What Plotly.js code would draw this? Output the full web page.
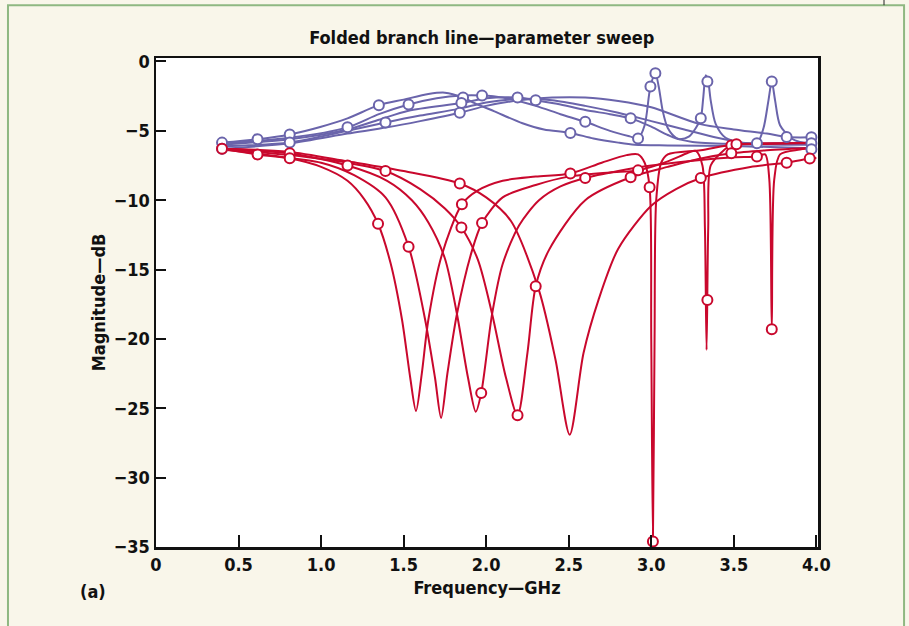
<!DOCTYPE html>
<html>
<head>
<meta charset="utf-8">
<script src="https://cdn.plot.ly/plotly-3.0.1.min.js"></script>
<style>
html,body{margin:0;padding:0;background:#f9f6ea;}
#chart{width:909px;height:626px;}
</style>
</head>
<body>
<div id="chart"></div>
<script>
// ---- Blue curves (GHz, dB) ----
const b1X = [0.4,0.62,0.81,1.0,1.16,1.35,1.5,1.65,1.75,1.86,1.93,2.05,2.22,2.35,2.51,2.65,2.8,2.9,3.1,3.5,3.97];
const b1Y = [-5.85,-5.6,-5.26,-4.7,-4.1,-3.15,-2.75,-2.35,-2.25,-2.6,-3.0,-3.6,-4.45,-4.9,-5.15,-5.55,-5.85,-6.0,-6.05,-6.1,-6.25];

const b2X = [0.4,0.81,1.16,1.35,1.53,1.7,1.85,1.975,2.1,2.3,2.45,2.6,2.75,2.87,2.92,2.96,2.995,3.025,3.045,3.07,3.1,3.15,3.25,3.5,3.97];
const b2Y = [-5.9,-5.5,-4.75,-3.8,-3.1,-2.65,-2.45,-2.45,-2.6,-3.2,-3.8,-4.35,-5.0,-5.4,-5.55,-4.6,-1.8,-0.85,-1.8,-3.6,-4.8,-5.5,-5.8,-5.95,-6.0];

const b3X = [0.4,0.81,1.16,1.35,1.53,1.85,2.0,2.19,2.3,2.45,2.6,2.75,2.875,3.0,3.1,3.17,3.23,3.27,3.3,3.315,3.33,3.345,3.36,3.39,3.45,3.55,3.8,3.97];
const b3Y = [-6.0,-5.6,-4.9,-4.2,-3.55,-3.0,-2.65,-2.6,-2.8,-3.1,-3.5,-3.8,-4.1,-4.7,-5.3,-5.6,-5.4,-4.8,-4.1,-2.6,-1.0,-1.45,-2.8,-4.5,-5.5,-5.85,-5.9,-5.9];

const b4X = [0.4,0.81,1.16,1.39,1.6,1.84,2.0,2.2,2.4,2.6,2.8,3.0,3.2,3.4,3.55,3.64,3.68,3.71,3.73,3.75,3.78,3.85,3.9,3.97];
const b4Y = [-6.1,-5.84,-5.0,-4.4,-3.9,-3.4,-2.95,-2.7,-2.8,-3.2,-3.7,-4.3,-4.9,-5.5,-5.85,-5.9,-4.8,-2.8,-1.45,-2.8,-4.6,-5.55,-5.8,-5.9];

const b5X = [0.4,0.81,1.16,1.4,1.6,1.84,2.0,2.2,2.4,2.6,2.8,3.0,3.29,3.5,3.7,3.82,3.97];
const b5Y = [-6.3,-5.9,-5.2,-4.75,-4.3,-3.7,-3.2,-2.8,-2.6,-2.6,-2.85,-3.3,-4.5,-4.9,-5.2,-5.45,-5.47];

// ---- Red curves (GHz, dB) ----
const r1X = [0.4,0.81,1.0,1.16,1.26,1.345,1.42,1.49,1.54,1.575,1.61,1.65,1.73,1.853,1.95,2.1,2.3,2.51,2.7,2.85,2.92,2.96,2.99,3.0,3.01,3.02,3.03,3.06,3.1,3.3,3.516,4.0];
const r1Y = [-6.35,-6.98,-7.6,-8.6,-9.9,-11.7,-14.5,-18.6,-22.8,-25.2,-22.5,-18.6,-14.0,-10.3,-9.3,-8.6,-8.3,-8.07,-7.3,-6.75,-6.7,-7.3,-9.07,-20,-34.6,-20,-10,-7.3,-6.7,-6.4,-5.97,-5.9];

const r2X = [0.4,0.615,1.0,1.2,1.39,1.53,1.63,1.69,1.727,1.765,1.823,1.915,1.975,2.1,2.3,2.5,2.75,2.92,3.1,3.22,3.27,3.31,3.325,3.335,3.345,3.36,3.43,3.485,3.7,4.0];
const r2Y = [-6.3,-6.7,-7.3,-8.2,-9.8,-13.35,-18.6,-22.8,-25.7,-22.5,-18.2,-13.6,-11.65,-9.8,-8.9,-8.3,-8.0,-7.85,-7.2,-6.6,-6.45,-7.5,-12,-20.8,-12,-7.5,-6.5,-6.05,-5.95,-5.85];

const r3X = [0.4,0.81,1.16,1.4,1.55,1.65,1.75,1.823,1.89,1.937,1.97,2.036,2.1,2.2,2.32,2.45,2.6,2.8,3.0,3.3,3.5,3.64,3.69,3.715,3.73,3.745,3.78,3.9,4.0];
const r3Y = [-6.3,-6.62,-7.5,-8.6,-10.0,-11.6,-14.2,-18.2,-22.8,-25.25,-23.9,-18.2,-14.6,-11.8,-10.0,-9.0,-8.4,-7.9,-7.5,-7.1,-6.9,-6.85,-6.7,-8.5,-19.3,-8.5,-6.7,-6.35,-6.2];

const r4X = [0.4,0.81,1.16,1.39,1.6,1.75,1.85,1.95,2.036,2.12,2.19,2.25,2.3,2.38,2.6,2.875,3.1,3.3,3.485,3.7,4.0];
const r4Y = [-6.3,-6.75,-7.3,-7.9,-9.2,-10.6,-11.97,-14.3,-18.2,-22.8,-25.5,-21,-16.2,-13.6,-10.0,-8.35,-7.6,-7.0,-6.62,-6.4,-6.2];

const r5X = [0.4,0.8,1.16,1.5,1.84,2.0,2.15,2.32,2.42,2.506,2.59,2.68,2.8,3.0,3.15,3.3,3.6,3.82,3.96,4.0];
const r5Y = [-6.3,-6.5,-7.2,-7.9,-8.8,-9.8,-11.5,-16.5,-21.5,-26.9,-21,-17.2,-13.5,-10.4,-9.2,-8.4,-7.6,-7.3,-7.0,-6.95];

// ---- Open-circle markers ----
const blueMarkX = [0.4,0.4,0.615,0.81,0.81,1.16,1.39,1.35,1.53,1.86,1.85,1.84,1.975,2.19,2.30,2.51,2.60,2.875,2.92,2.995,3.025,3.30,3.34,3.73,3.64,3.82,3.97,3.97,3.97];
const blueMarkY = [-5.85,-6.3,-5.6,-5.26,-5.84,-4.75,-4.4,-3.15,-3.1,-2.6,-3.0,-3.7,-2.45,-2.6,-2.8,-5.15,-4.35,-4.1,-5.55,-1.8,-0.85,-4.1,-1.45,-1.45,-5.9,-5.45,-5.47,-5.9,-6.33];

const redMarkX = [0.40,0.615,0.81,0.81,1.16,1.39,1.84,1.345,1.53,1.853,1.85,1.975,1.97,2.19,2.30,2.51,2.60,2.875,2.92,2.99,3.01,3.30,3.34,3.485,3.516,3.485,3.64,3.73,3.82,3.96];
const redMarkY = [-6.3,-6.7,-6.62,-6.98,-7.5,-7.9,-8.8,-11.7,-13.35,-10.3,-11.97,-11.65,-23.9,-25.5,-16.2,-8.07,-8.4,-8.35,-7.85,-9.07,-34.6,-8.4,-17.2,-6.05,-5.97,-6.62,-6.85,-19.3,-7.3,-7.0];

const xTickVals = [0,0.5,1.0,1.5,2.0,2.5,3.0,3.5,4.0];
const xTickText = ['0','0.5','1.0','1.5','2.0','2.5','3.0','3.5','4.0'];
const yTickVals = [0,-5,-10,-15,-20,-25,-30,-35];
const yTickText = ['0','\u22125','\u221210','\u221215','\u221220','\u221225','\u221230','\u221235'];

const BLUE = '#6a64ab';
const RED = '#c9082d';
const FONT = '"Liberation Sans Narrow","Arial Narrow","DejaVu Sans Condensed",sans-serif';

function line(x, y, color) {
  return {x: x, y: y, type: 'scatter', mode: 'lines',
    line: {color: color, width: 2, shape: 'spline', smoothing: 0.8},
    hoverinfo: 'skip', showlegend: false};
}
function marks(x, y, color) {
  return {x: x, y: y, type: 'scatter', mode: 'markers',
    marker: {symbol: 'circle', size: 10, color: '#ffffff', line: {color: color, width: 2}},
    hoverinfo: 'skip', showlegend: false};
}

const traces = [
  line(b1X, b1Y, BLUE), line(b2X, b2Y, BLUE), line(b3X, b3Y, BLUE), line(b4X, b4Y, BLUE), line(b5X, b5Y, BLUE),
  line(r1X, r1Y, RED), line(r2X, r2Y, RED), line(r3X, r3Y, RED), line(r4X, r4Y, RED), line(r5X, r5Y, RED),
  marks(blueMarkX, blueMarkY, BLUE), marks(redMarkX, redMarkY, RED)
];

const layout = {
  width: 909, height: 626,
  paper_bgcolor: '#f9f6ea', plot_bgcolor: '#ffffff',
  margin: {l: 156, r: 91, t: 58, b: 79},
  font: {family: FONT, color: '#111111'},
  title: {text: 'Folded branch line\u2014parameter sweep', x: 0.53, xanchor: 'center', y: 0.94, yanchor: 'middle',
          font: {family: FONT, size: 18, weight: 'bold', color: '#111111'}},
  xaxis: {range: [0, 4.01], tickvals: xTickVals, ticktext: xTickText,
          ticks: 'inside', ticklen: 12, tickwidth: 2, tickcolor: '#111',
          showline: true, linewidth: 2.5, linecolor: '#111', mirror: true,
          showgrid: false, zeroline: false,
          tickfont: {family: FONT, size: 18, weight: 'bold'},
          title: {text: 'Frequency\u2014GHz', standoff: 8, font: {family: FONT, size: 18, weight: 'bold'}}},
  yaxis: {range: [-35, 0.25], tickvals: yTickVals, ticktext: yTickText,
          ticks: 'inside', ticklen: 10, tickwidth: 2, tickcolor: '#111',
          showline: true, linewidth: 2.5, linecolor: '#111', mirror: true,
          showgrid: false, zeroline: false,
          tickfont: {family: FONT, size: 18, weight: 'bold'},
          title: {text: 'Magnitude\u2014dB', standoff: 4, font: {family: FONT, size: 18, weight: 'bold'}}},
  shapes: [
    {type: 'rect', xref: 'paper', yref: 'paper', x0: -0.2236, x1: 1.13, y0: -0.2, y1: 1.108,
     line: {color: '#8fb882', width: 2}, fillcolor: 'rgba(0,0,0,0)', layer: 'below'},
    {type: 'line', xref: 'paper', yref: 'paper', x0: 1.0997, x1: 1.0997, y0: 1.108, y1: 1.125,
     line: {color: '#222', width: 1}}
  ],
  annotations: [
    {text: '(a)', xref: 'paper', yref: 'paper', x: -0.095, y: -0.09, xanchor: 'center', yanchor: 'middle',
     showarrow: false, font: {family: FONT, size: 18, weight: 'bold', color: '#111'}}
  ]
};

Plotly.newPlot('chart', traces, layout, {displayModeBar: false, staticPlot: true});
</script>
</body>
</html>
